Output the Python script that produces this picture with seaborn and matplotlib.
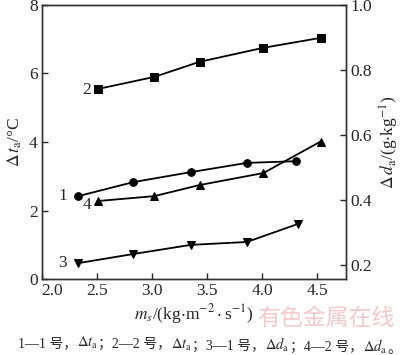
import pandas as pd
import matplotlib
matplotlib.use("Agg")
import matplotlib.pyplot as plt
import matplotlib.transforms as mtransforms
import seaborn as sns

# mass flux m_s vs. air temperature rise (left) / humidity rise (right)
ms_1 = [2.33, 2.83, 3.35, 3.86, 4.31]
dt_1 = [2.42, 2.83, 3.12, 3.39, 3.44]
ms_2 = [2.51, 3.02, 3.43, 4.01, 4.53]
dt_2 = [5.55, 5.90, 6.34, 6.75, 7.04]
ms_3 = [2.33, 2.83, 3.35, 3.86, 4.32]
dd_3 = [0.206, 0.234, 0.262, 0.271, 0.326]
ms_4 = [2.51, 3.02, 3.43, 4.01, 4.53]
dd_4 = [0.397, 0.412, 0.446, 0.483, 0.580]
curve_labels = ["1", "2", "3", "4"]

sns.set_style("ticks")
plt.rcParams['font.family'] = ['Liberation Serif', 'Noto Sans CJK SC', 'DejaVu Sans']
plt.rcParams['mathtext.fontset'] = 'stix'
plt.rcParams['xtick.direction'] = 'in'
plt.rcParams['ytick.direction'] = 'in'

fig = plt.figure(figsize=(4.0, 3.55), dpi=100)
ax = fig.add_axes([0.105, 0.214, 0.76, 0.772])
ax2 = ax.twinx()

kw = dict(color='black', linewidth=1.3, markeredgecolor='black', markersize=5.5)
sns.lineplot(x=ms_1, y=dt_1, marker='o', ax=ax, **kw)
sns.lineplot(x=ms_2, y=dt_2, marker='s', ax=ax, **kw)
sns.lineplot(x=ms_3, y=dd_3, marker='v', ax=ax2, **kw)
sns.lineplot(x=ms_4, y=dd_4, marker='^', ax=ax2, **kw)

ax.set_xlim(2.0, 4.76)
ax.set_ylim(0, 8)
ax2.set_ylim(0.157, 1.0)
ax.set_xticks([2.0, 2.5, 3.0, 3.5, 4.0, 4.5])
ax.set_yticks([0, 2, 4, 6, 8])
ax2.set_yticks([0.2, 0.4, 0.6, 0.8, 1.0])
ax.set_xticklabels(["2.0", "2.5", "3.0", "3.5", "4.0", "4.5"])
ax2.set_yticklabels(["0.2", "0.4", "0.6", "0.8", "1.0"])
for a in (ax, ax2):
    a.tick_params(labelsize=12.5, length=4, width=1, pad=3)
    for s in a.spines.values():
        s.set_linewidth(1)
        s.set_color('#333333')
# first x label sits a bit right of the corner, like the original
lab0 = ax.get_xticklabels()[0]
lab0.set_transform(lab0.get_transform() + mtransforms.ScaledTranslation(7 / 72, 0, fig.dpi_scale_trans))

ax.set_xlabel(r'$m_s$/(kg$\cdot$m$^{-2}\cdot$s$^{-1}$)', fontsize=12.5, labelpad=2)
ax.set_ylabel(r'$\Delta\,t_\mathrm{a}$/°C', fontsize=12.5, labelpad=4)
ax2.set_ylabel(r'$\Delta\,d_\mathrm{a}$/(g$\cdot$kg$^{-1}$)', fontsize=12.5, labelpad=4)

# curve numbers next to first points
ax.annotate(curve_labels[0], (ms_1[0], dt_1[0]), xytext=(-8, 0), textcoords='offset points',
            ha='right', va='center', fontsize=12.5)
ax.annotate(curve_labels[1], (ms_2[0], dt_2[0]), xytext=(-5, -1), textcoords='offset points',
            ha='right', va='center', fontsize=12.5)
ax2.annotate(curve_labels[2], (ms_3[0], dd_3[0]), xytext=(-8, 0), textcoords='offset points',
             ha='right', va='center', fontsize=12.5)
ax2.annotate(curve_labels[3], (ms_4[0], dd_4[0]), xytext=(-5, -3), textcoords='offset points',
             ha='right', va='center', fontsize=12.5)

# watermark
fig.text(0.815, 1 - 318 / 355, '有色金属在线', fontsize=16.5, color='#f4caca',
         ha='center', va='center', family=['Noto Sans CJK SC'], zorder=0)

# caption: CJK pieces and math pieces chained one after another
caption = ['1—1 号，', r'$\Delta t_\mathrm{a}$', '；2—2 号，', r'$\Delta t_\mathrm{a}$',
           '；3—1 号，', r'$\Delta d_\mathrm{a}$', '；4—2 号，', r'$\Delta d_\mathrm{a}$', '。']
t = fig.text(0.045, 1 - 350 / 355, caption[0], fontsize=10, ha='left', va='bottom')
for seg in caption[1:]:
    dy = -1 if seg.startswith('$') else 0
    t = ax.annotate(seg, xy=(1, 0), xycoords=t, xytext=(0, dy), textcoords='offset points',
                    fontsize=10.5 if seg.startswith('$') else 10,
                    ha='left', va='bottom', annotation_clip=False)

fig.savefig("out.png", dpi=100)
